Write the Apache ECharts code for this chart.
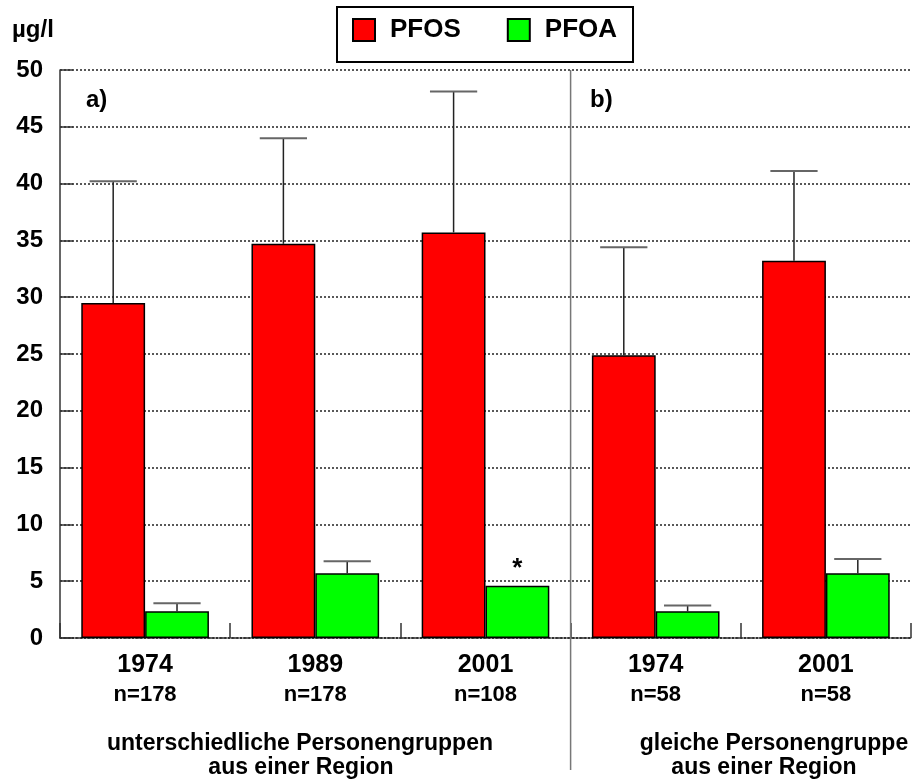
<!DOCTYPE html>
<html>
<head>
<meta charset="utf-8">
<script src="https://cdn.jsdelivr.net/npm/echarts@6/dist/echarts.min.js"></script>
<style>
html,body{margin:0;padding:0;background:#fff;}
#c{width:915px;height:780px;}
</style>
</head>
<body>
<div id="c"></div>
<script>
const years = ['1974', '1989', '2001', '1974', '2001'];
const nCounts = ['n=178', 'n=178', 'n=108', 'n=58', 'n=58'];
const categories = ['a-1974', 'a-1989', 'a-2001', 'b-1974', 'b-2001'];
const pfos = [29.5, 34.7, 35.7, 24.9, 33.2];
const pfosUpper = [40.2, 44.0, 48.1, 34.4, 41.1];
const pfoa = [2.35, 5.7, 4.6, 2.35, 5.7];
const pfoaUpper = [3.05, 6.75, null, 2.85, 6.95];
const yTicks = { min: 0, max: 50, interval: 5 };
const FONT = '"Liberation Sans", Arial, sans-serif';

const chart = echarts.init(document.getElementById('c'), null, { renderer: 'canvas' });

function errData(vals, uppers) {
  const out = [];
  vals.forEach((v, i) => { if (uppers[i] != null) out.push([i, v, uppers[i]]); });
  return out;
}
function errRender(side) {
  return function (params, api) {
    const ci = api.value(0), lo = api.value(1), hi = api.value(2);
    const band = api.size([1, 0])[0];
    const barW = band * 0.75 / 2;
    const p0 = api.coord([ci, lo]);
    const p1 = api.coord([ci, hi]);
    const x = p0[0] + side * barW / 2;
    const capHalf = barW * 0.37;
    return {
      type: 'group',
      children: [
        { type: 'line', shape: { x1: x, y1: p0[1], x2: x, y2: p1[1] }, style: { stroke: '#222', lineWidth: 1.5 } },
        { type: 'line', shape: { x1: x - capHalf, y1: p1[1], x2: x + capHalf, y2: p1[1] }, style: { stroke: '#666', lineWidth: 2 } }
      ]
    };
  };
}

const pfoaData = pfoa.map((v, i) => pfoaUpper[i] == null
  ? { value: v, label: { show: true, formatter: '*', position: 'top', distance: 4, fontSize: 26, fontWeight: 'bold', color: '#000', fontFamily: FONT } }
  : v);

chart.setOption({
  animation: false,
  backgroundColor: '#fff',
  textStyle: { fontFamily: FONT },
  grid: { left: 60, right: 4, top: 70, bottom: 142, containLabel: false },
  legend: {
    left: 337, top: 7,
    padding: [10, 16, 19, 15],
    itemGap: 46,
    itemWidth: 22, itemHeight: 22,
    icon: 'rect',
    borderColor: '#000', borderWidth: 2,
    backgroundColor: '#fff',
    textStyle: { fontSize: 26, fontWeight: 'bold', color: '#000', fontFamily: FONT, padding: [0, 0, 0, 10] },
    data: ['PFOS', 'PFOA']
  },
  xAxis: {
    type: 'category',
    data: categories,
    boundaryGap: true,
    axisLine: { show: true, lineStyle: { color: '#222', width: 1.5, type: 'dotted' } },
    axisTick: { show: true, inside: true, length: 15, alignWithLabel: false, lineStyle: { color: '#333', width: 1.5 } },
    axisLabel: {
      margin: 12,
      interval: 0,
      formatter: (v, i) => '{y|' + years[i] + '}\n{n|' + nCounts[i] + '}',
      rich: {
        y: { fontSize: 25, fontWeight: 'bold', color: '#000', lineHeight: 30, fontFamily: FONT, align: 'center' },
        n: { fontSize: 22, fontWeight: 'bold', color: '#000', lineHeight: 30, fontFamily: FONT, align: 'center' }
      }
    },
    splitLine: { show: false }
  },
  yAxis: {
    type: 'value',
    min: yTicks.min, max: yTicks.max, interval: yTicks.interval,
    axisLine: { show: true, lineStyle: { color: '#333', width: 1.5 } },
    axisTick: { show: true, inside: true, length: 13, lineStyle: { color: '#333', width: 1.5 } },
    axisLabel: { margin: 17, fontSize: 24, fontWeight: 'bold', color: '#000', fontFamily: FONT },
    splitLine: { show: true, lineStyle: { color: '#222', width: 1.5, type: [2, 2] } }
  },
  series: [
    {
      name: 'PFOS', type: 'bar', data: pfos,
      barGap: '0%', barCategoryGap: '25%',
      itemStyle: { color: '#ff0000', borderColor: '#000', borderWidth: 1.5 }
    },
    {
      name: 'PFOA', type: 'bar', data: pfoaData,
      barGap: '0%', barCategoryGap: '25%',
      itemStyle: { color: '#00ff00', borderColor: '#000', borderWidth: 1.5 }
    },
    {
      name: 'PFOS-err', type: 'custom', renderItem: errRender(-1),
      data: errData(pfos, pfosUpper), encode: { x: 0, y: [1, 2] }, z: 3, silent: true
    },
    {
      name: 'PFOA-err', type: 'custom', renderItem: errRender(1),
      data: errData(pfoa, pfoaUpper), encode: { x: 0, y: [1, 2] }, z: 3, silent: true
    }
  ]
});

const xa = chart.convertToPixel({ xAxisIndex: 0 }, categories[2]);
const xb = chart.convertToPixel({ xAxisIndex: 0 }, categories[3]);
const sepX = (xa + xb) / 2;
const yTop = chart.convertToPixel({ yAxisIndex: 0 }, yTicks.max);
const txt = (text, x, y, size, align) => ({
  type: 'text', x: x, y: y, z: 10,
  style: { text: text, fontSize: size, fontWeight: 'bold', fill: '#000', fontFamily: FONT, align: align || 'left', verticalAlign: 'middle' }
});

chart.setOption({
  graphic: [
    { type: 'line', z: 5, shape: { x1: sepX, y1: yTop, x2: sepX, y2: 770 }, style: { stroke: '#777', lineWidth: 1.5 } },
    txt('µg/l', 12, 30, 24),
    txt('a)', 86, 100, 24),
    txt('b)', 590, 100, 24),
    txt('unterschiedliche Personengruppen', 300, 744, 23, 'center'),
    txt('aus einer Region', 301, 768, 23, 'center'),
    txt('gleiche Personengruppe', 774, 744, 23, 'center'),
    txt('aus einer Region', 764, 768, 23, 'center')
  ]
});
</script>
</body>
</html>
